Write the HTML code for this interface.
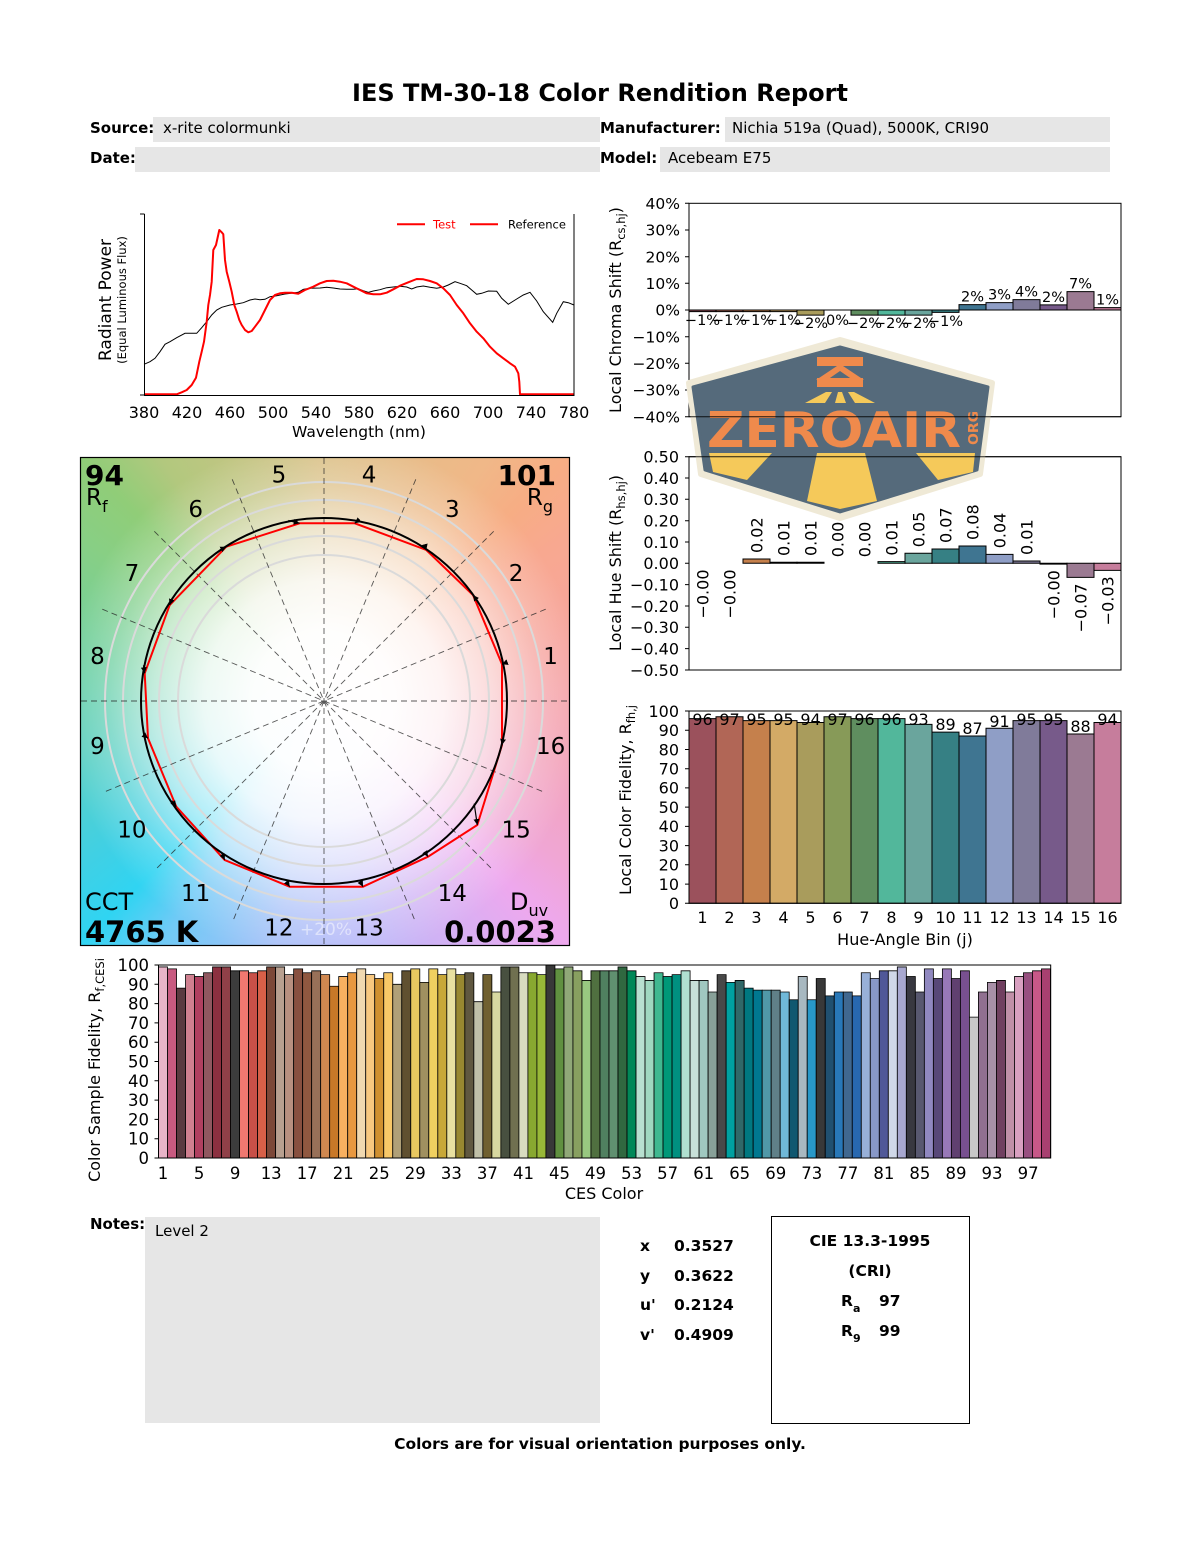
<!DOCTYPE html>
<html><head><meta charset="utf-8"><style>
html,body{margin:0;padding:0;background:#fff;}
#wrap{position:relative;width:1200px;height:1550px;overflow:hidden;background:#fff;}
#cvgbg{position:absolute;left:81px;top:458px;width:488px;height:487px;
background:
radial-gradient(circle 270px at 243px 243px, rgba(255,255,255,1) 0px, rgba(255,255,255,0.98) 70px, rgba(255,255,255,0.88) 120px, rgba(255,255,255,0.6) 170px, rgba(255,255,255,0.25) 215px, rgba(255,255,255,0) 262px),
conic-gradient(from 0deg at 243px 243px, #dcc28a 0deg, #f0b888 34deg, #f7ad84 45deg, #f8a890 56deg, #f6a4a0 79deg, #f3a3b6 101deg, #f0a6d4 124deg, #eea8ee 135deg, #dcaef2 146deg, #bcb8f8 169deg, #a8c0f8 191deg, #70caf6 214deg, #30d4f2 225deg, #40d0e4 236deg, #5fd0c0 259deg, #70d0a0 281deg, #88cf84 304deg, #90cd78 315deg, #b2c87e 326deg, #ccc486 349deg, #dcc28a 360deg);}
svg{position:absolute;left:0;top:0;}
</style></head><body><div id="wrap">
<div id="cvgbg"></div>
<svg width="1200" height="1550" viewBox="0 0 1200 1550" font-family="DejaVu Sans, sans-serif">
<defs>
<marker id="ah" viewBox="0 0 10 10" refX="10" refY="5" markerWidth="6" markerHeight="6" markerUnits="userSpaceOnUse" orient="auto"><path d="M0,0 L10,5 L0,10 z" fill="#000"/></marker>
<clipPath id="cvgclip"><rect x="81" y="458" width="488" height="487"/></clipPath>
</defs>

<!-- Header -->
<text x="600" y="101" font-size="24" font-weight="bold" text-anchor="middle">IES TM-30-18 Color Rendition Report</text>
<rect x="153" y="117" width="447" height="25" fill="#e6e6e6"/>
<rect x="135" y="147" width="465" height="25" fill="#e6e6e6"/>
<rect x="725" y="117" width="385" height="25" fill="#e6e6e6"/>
<rect x="660" y="147" width="450" height="25" fill="#e6e6e6"/>
<text x="90" y="133" font-size="15" font-weight="bold">Source:</text>
<text x="163" y="133" font-size="15">x-rite colormunki</text>
<text x="90" y="163" font-size="15" font-weight="bold">Date:</text>
<text x="600" y="133" font-size="15" font-weight="bold">Manufacturer:</text>
<text x="732" y="133" font-size="15">Nichia 519a (Quad), 5000K, CRI90</text>
<text x="600" y="163" font-size="15" font-weight="bold">Model:</text>
<text x="668" y="163" font-size="15">Acebeam E75</text>

<!-- Spectrum chart -->
<g fill="none">
<polyline stroke="#000" stroke-width="1" points="144,364.3 150,361.7 155,358.3 160,351.7 165,344.3 170,341.7 176.7,337.7 185,333.3 196.7,333.3 201.7,327.7 206.7,321.7 211.7,315 216.7,310 221.7,307.3 230,305 236.7,304 243.3,302.7 250,300 255,299 260,299.7 265,299.3 270,296.7 276.7,295.7 285,294 293.3,293 298.3,292.3 303.3,289.3 310,288.3 320,288 326.7,287.3 333.3,288 340,289 346.7,289.3 353.3,289.3 358.3,288.7 363.3,290.7 368.3,292.3 373.3,291 380,289.7 386.7,287.7 393.3,287 400,286.3 406.7,287 411.7,289 416.7,287 423.3,286 430,287.3 436.7,288.3 443.3,287 448.3,285 455,281.7 460,283.3 466.7,285.7 471.7,290 476.7,294.3 481.7,293.3 488.3,291 496.7,291.3 501.7,298.3 508.3,304.3 516.7,299 523.3,295 530,292.3 536.7,301 543.3,311.7 552.7,322.3 556.7,313.3 563.3,301.7 568.3,302.7 574,305"/>
<polyline stroke="#ff0000" stroke-width="2" stroke-linejoin="round" points="144,394.3 176.7,394.3 181.7,392.3 186.7,390 191.7,385 196,377.7 199.3,361.7 201.7,351.7 204,341.7 206.7,321.7 208.3,305 210,295 211.7,281.7 213.3,250 216,245 219.3,230 221.7,232.3 223.3,234.3 225,260 226.7,271.7 229.3,281.7 231.7,291.7 234.3,305 236.7,311.7 239.3,320 241.7,325 245,330 248.3,332.3 251.7,331 255,326.7 260,320 265,310 270,300 275,295 280,293.3 285,292.7 291.7,292.7 298.3,293.7 305,290 313.3,286.7 320,283.3 326.7,281 333.3,280.7 340,281.7 346.7,283.3 353.3,286.7 360,290 366.7,293.3 373.3,294.3 380,294.3 386.7,292.7 393.3,289.3 400,285.7 408.3,282.3 416.7,279 423.3,279.3 430,281 436.7,283.3 443.3,288.3 450,295 456.7,305 463.3,313.3 470,323.3 476.7,331.7 483.3,338.3 490,346.7 496.7,353.3 503.3,358.3 510,363.3 515,366.7 518.3,373.3 519.3,381.7 520,394.3 574,394.3"/>
<path d="M144.5,214 V395.5 H574 V214" stroke="#000" stroke-width="1"/>
<path d="M140,214 H144.5 M140,395 H144.5" stroke="#000" stroke-width="1"/>
<line x1="397" y1="224.3" x2="425" y2="224.3" stroke="#ff0000" stroke-width="2"/>
<line x1="470" y1="224.3" x2="498" y2="224.3" stroke="#ff0000" stroke-width="2"/>
</g>
<text x="433" y="228.5" font-size="11.5" fill="#ff0000">Test</text>
<text x="508" y="228.5" font-size="11.5" fill="#000">Reference</text>
<g font-size="16" text-anchor="middle">
<text x="144" y="418">380</text><text x="187" y="418">420</text><text x="230" y="418">460</text><text x="273" y="418">500</text><text x="316" y="418">540</text><text x="359" y="418">580</text><text x="402" y="418">620</text><text x="445" y="418">660</text><text x="488" y="418">700</text><text x="531" y="418">740</text><text x="574" y="418">780</text>
</g>
<text x="359" y="437" font-size="15.5" text-anchor="middle">Wavelength (nm)</text>
<text transform="translate(111,300) rotate(-90)" font-size="17" text-anchor="middle">Radiant Power</text>
<text transform="translate(126,300) rotate(-90)" font-size="11.5" text-anchor="middle">(Equal Luminous Flux)</text>

<!-- Chroma shift chart -->
<g transform="translate(689,310) scale(27,-2.6667)" stroke="#000" stroke-width="1">
<rect x="0" y="-0.6" width="1" height="0.6" fill="#9b515c" vector-effect="non-scaling-stroke"/>
<rect x="1" y="-0.6" width="1" height="0.6" fill="#b16656" vector-effect="non-scaling-stroke"/>
<rect x="2" y="-0.6" width="1" height="0.6" fill="#c5804c" vector-effect="non-scaling-stroke"/>
<rect x="3" y="-0.6" width="1" height="0.6" fill="#d3aa66" vector-effect="non-scaling-stroke"/>
<rect x="4" y="-1.9" width="1" height="1.9" fill="#a99c5c" vector-effect="non-scaling-stroke"/>
<rect x="6" y="-1.9" width="1" height="1.9" fill="#5f8e5f" vector-effect="non-scaling-stroke"/>
<rect x="7" y="-1.9" width="1" height="1.9" fill="#52b79b" vector-effect="non-scaling-stroke"/>
<rect x="8" y="-1.9" width="1" height="1.9" fill="#6aa59d" vector-effect="non-scaling-stroke"/>
<rect x="9" y="-0.9" width="1" height="0.9" fill="#368084" vector-effect="non-scaling-stroke"/>
<rect x="10" y="0" width="1" height="2.0" fill="#3f7591" vector-effect="non-scaling-stroke"/>
<rect x="11" y="0" width="1" height="2.75" fill="#8f9ec6" vector-effect="non-scaling-stroke"/>
<rect x="12" y="0" width="1" height="3.9" fill="#807b9a" vector-effect="non-scaling-stroke"/>
<rect x="13" y="0" width="1" height="1.9" fill="#775a8a" vector-effect="non-scaling-stroke"/>
<rect x="14" y="0" width="1" height="6.9" fill="#9b7a92" vector-effect="non-scaling-stroke"/>
<rect x="15" y="0" width="1" height="0.9" fill="#c67d9c" vector-effect="non-scaling-stroke"/>
</g>
<line x1="689" y1="310" x2="1121" y2="310" stroke="#000" stroke-width="1"/>
<rect x="689" y="203.3" width="432" height="213.4" fill="none" stroke="#000" stroke-width="1"/>
<path d="M685,203.3H689M685,230H689M685,256.7H689M685,283.3H689M685,310H689M685,336.7H689M685,363.3H689M685,390H689M685,416.7H689" stroke="#000"/>
<g font-size="15.5" text-anchor="end">
<text x="680" y="209">40%</text><text x="680" y="235.7">30%</text><text x="680" y="262.4">20%</text><text x="680" y="289">10%</text><text x="680" y="315.7">0%</text><text x="680" y="342.4">−10%</text><text x="680" y="369">−20%</text><text x="680" y="395.7">−30%</text><text x="680" y="422.4">−40%</text>
</g>
<g font-size="14.5" text-anchor="middle">
<text x="702.5" y="325">−1%</text><text x="729.5" y="325">−1%</text><text x="756.5" y="325">−1%</text><text x="783.5" y="325">−1%</text><text x="810.5" y="328">−2%</text><text x="837.5" y="325">0%</text><text x="864.5" y="328">−2%</text><text x="891.5" y="328">−2%</text><text x="918.5" y="328">−2%</text><text x="945.5" y="326">−1%</text><text x="972.5" y="301.5">2%</text><text x="999.5" y="299.5">3%</text><text x="1026.5" y="296.5">4%</text><text x="1053.5" y="302">2%</text><text x="1080.5" y="288.5">7%</text><text x="1107.5" y="304.5">1%</text>
</g>
<text transform="translate(621,310) rotate(-90)" font-size="16" text-anchor="middle">Local Chroma Shift (R<tspan font-size="11.5" dy="4">cs,hj</tspan><tspan dy="-4">)</tspan></text>

<!-- Hue shift chart -->
<g transform="translate(689,563.3) scale(27,-213.3)" stroke="#000" stroke-width="1">
<rect x="2" y="0" width="1" height="0.02" fill="#c5804c" vector-effect="non-scaling-stroke"/>
<rect x="3" y="0" width="1" height="0.005" fill="#d3aa66" vector-effect="non-scaling-stroke"/>
<rect x="4" y="0" width="1" height="0.005" fill="#a99c5c" vector-effect="non-scaling-stroke"/>
<rect x="7" y="0" width="1" height="0.008" fill="#52b79b" vector-effect="non-scaling-stroke"/>
<rect x="8" y="0" width="1" height="0.047" fill="#6aa59d" vector-effect="non-scaling-stroke"/>
<rect x="9" y="0" width="1" height="0.067" fill="#368084" vector-effect="non-scaling-stroke"/>
<rect x="10" y="0" width="1" height="0.081" fill="#3f7591" vector-effect="non-scaling-stroke"/>
<rect x="11" y="0" width="1" height="0.042" fill="#8f9ec6" vector-effect="non-scaling-stroke"/>
<rect x="12" y="0" width="1" height="0.011" fill="#807b9a" vector-effect="non-scaling-stroke"/>
<rect x="13" y="-0.004" width="1" height="0.004" fill="#775a8a" vector-effect="non-scaling-stroke"/>
<rect x="14" y="-0.066" width="1" height="0.066" fill="#9b7a92" vector-effect="non-scaling-stroke"/>
<rect x="15" y="-0.033" width="1" height="0.033" fill="#c67d9c" vector-effect="non-scaling-stroke"/>
</g>
<rect x="689" y="456.7" width="432" height="213.3" fill="none" stroke="#000" stroke-width="1"/>
<path d="M685,456.7H689M685,478H689M685,499.3H689M685,520.7H689M685,542H689M685,563.3H689M685,584.6H689M685,606H689M685,627.3H689M685,648.6H689M685,670H689" stroke="#000"/>
<g font-size="16" text-anchor="end">
<text x="679" y="462.5">0.50</text><text x="679" y="483.8">0.40</text><text x="679" y="505.1">0.30</text><text x="679" y="526.5">0.20</text><text x="679" y="547.8">0.10</text><text x="679" y="569.1">0.00</text><text x="679" y="590.4">−0.10</text><text x="679" y="611.8">−0.20</text><text x="679" y="633.1">−0.30</text><text x="679" y="654.4">−0.40</text><text x="679" y="675.8">−0.50</text>
</g>
<g font-size="16">
<text transform="translate(708.3,569.5) rotate(-90)" text-anchor="end">−0.00</text>
<text transform="translate(735.3,569.5) rotate(-90)" text-anchor="end">−0.00</text>
<text transform="translate(762.3,553) rotate(-90)">0.02</text>
<text transform="translate(789.3,556) rotate(-90)">0.01</text>
<text transform="translate(816.3,556) rotate(-90)">0.01</text>
<text transform="translate(843.3,557.3) rotate(-90)">0.00</text>
<text transform="translate(870.3,557.3) rotate(-90)">0.00</text>
<text transform="translate(897.3,555.6) rotate(-90)">0.01</text>
<text transform="translate(924.3,547.3) rotate(-90)">0.05</text>
<text transform="translate(951.3,543) rotate(-90)">0.07</text>
<text transform="translate(978.3,540) rotate(-90)">0.08</text>
<text transform="translate(1005.3,548.3) rotate(-90)">0.04</text>
<text transform="translate(1032.3,555) rotate(-90)">0.01</text>
<text transform="translate(1059.3,570.2) rotate(-90)" text-anchor="end">−0.00</text>
<text transform="translate(1086.3,583.4) rotate(-90)" text-anchor="end">−0.07</text>
<text transform="translate(1113.3,576.3) rotate(-90)" text-anchor="end">−0.03</text>
</g>
<text transform="translate(621,563) rotate(-90)" font-size="16" text-anchor="middle">Local Hue Shift (R<tspan font-size="11.5" dy="4">hs,hj</tspan><tspan dy="-4">)</tspan></text>

<!-- Local color fidelity chart -->
<g transform="translate(689,903.3) scale(27,-1.9233)" stroke="#000" stroke-width="1">
<rect x="0" y="0" width="1" height="96" fill="#9b515c" vector-effect="non-scaling-stroke"/>
<rect x="1" y="0" width="1" height="97" fill="#b16656" vector-effect="non-scaling-stroke"/>
<rect x="2" y="0" width="1" height="95" fill="#c5804c" vector-effect="non-scaling-stroke"/>
<rect x="3" y="0" width="1" height="95" fill="#d3aa66" vector-effect="non-scaling-stroke"/>
<rect x="4" y="0" width="1" height="94" fill="#a99c5c" vector-effect="non-scaling-stroke"/>
<rect x="5" y="0" width="1" height="97" fill="#879a58" vector-effect="non-scaling-stroke"/>
<rect x="6" y="0" width="1" height="96" fill="#5f8e5f" vector-effect="non-scaling-stroke"/>
<rect x="7" y="0" width="1" height="96" fill="#52b79b" vector-effect="non-scaling-stroke"/>
<rect x="8" y="0" width="1" height="93" fill="#6aa59d" vector-effect="non-scaling-stroke"/>
<rect x="9" y="0" width="1" height="89" fill="#368084" vector-effect="non-scaling-stroke"/>
<rect x="10" y="0" width="1" height="87" fill="#3f7591" vector-effect="non-scaling-stroke"/>
<rect x="11" y="0" width="1" height="91" fill="#8f9ec6" vector-effect="non-scaling-stroke"/>
<rect x="12" y="0" width="1" height="95" fill="#807b9a" vector-effect="non-scaling-stroke"/>
<rect x="13" y="0" width="1" height="95" fill="#775a8a" vector-effect="non-scaling-stroke"/>
<rect x="14" y="0" width="1" height="88" fill="#9b7a92" vector-effect="non-scaling-stroke"/>
<rect x="15" y="0" width="1" height="94" fill="#c67d9c" vector-effect="non-scaling-stroke"/>
</g>
<rect x="689" y="711" width="432" height="192.3" fill="none" stroke="#000" stroke-width="1"/>
<path d="M685,711H689M685,730.2H689M685,749.5H689M685,768.7H689M685,787.9H689M685,807.1H689M685,826.4H689M685,845.6H689M685,864.8H689M685,884.1H689M685,903.3H689" stroke="#000"/>
<g font-size="16" text-anchor="end">
<text x="679" y="716.8">100</text><text x="679" y="736">90</text><text x="679" y="755.3">80</text><text x="679" y="774.5">70</text><text x="679" y="793.7">60</text><text x="679" y="812.9">50</text><text x="679" y="832.2">40</text><text x="679" y="851.4">30</text><text x="679" y="870.6">20</text><text x="679" y="889.9">10</text><text x="679" y="909.1">0</text>
</g>
<g font-size="16" text-anchor="middle">
<text x="702.5" y="725">96</text><text x="729.5" y="725">97</text><text x="756.5" y="725">95</text><text x="783.5" y="725">95</text><text x="810.5" y="725">94</text><text x="837.5" y="725">97</text><text x="864.5" y="725">96</text><text x="891.5" y="725">96</text><text x="918.5" y="725">93</text><text x="945.5" y="730">89</text><text x="972.5" y="734">87</text><text x="999.5" y="727">91</text><text x="1026.5" y="725">95</text><text x="1053.5" y="725">95</text><text x="1080.5" y="732">88</text><text x="1107.5" y="725">94</text>
</g>
<g font-size="16" text-anchor="middle">
<text x="702.5" y="923">1</text><text x="729.5" y="923">2</text><text x="756.5" y="923">3</text><text x="783.5" y="923">4</text><text x="810.5" y="923">5</text><text x="837.5" y="923">6</text><text x="864.5" y="923">7</text><text x="891.5" y="923">8</text><text x="918.5" y="923">9</text><text x="945.5" y="923">10</text><text x="972.5" y="923">11</text><text x="999.5" y="923">12</text><text x="1026.5" y="923">13</text><text x="1053.5" y="923">14</text><text x="1080.5" y="923">15</text><text x="1107.5" y="923">16</text>
</g>
<text x="905" y="945" font-size="16" text-anchor="middle">Hue-Angle Bin (j)</text>
<text transform="translate(631,800) rotate(-90)" font-size="16" text-anchor="middle">Local Color Fidelity, R<tspan font-size="11.5" dy="4">fh,j</tspan></text>

<!-- Color vector graphic -->
<g clip-path="url(#cvgclip)">
<g fill="none" stroke="#dadada" stroke-width="2">
<circle cx="324" cy="701" r="219"/><circle cx="324" cy="701" r="201"/><circle cx="324" cy="701" r="165"/><circle cx="324" cy="701" r="146"/>
</g>
<g stroke="#222" stroke-width="0.9" stroke-dasharray="6,4" opacity="0.75">
<line x1="81" y1="701" x2="569" y2="701"/>
<line x1="324" y1="458" x2="324" y2="945"/>
<line x1="545.7" y1="609.2" x2="102.3" y2="792.8"/>
<line x1="493.7" y1="531.3" x2="154.3" y2="870.7"/>
<line x1="415.8" y1="479.3" x2="232.2" y2="922.7"/>
<line x1="232.2" y1="479.3" x2="415.8" y2="922.7"/>
<line x1="154.3" y1="531.3" x2="493.7" y2="870.7"/>
<line x1="102.3" y1="609.2" x2="545.7" y2="792.8"/>
</g>
<text x="326" y="935" font-size="17" text-anchor="middle" fill="#fff" opacity="0.5">+20%</text>
<polygon fill="none" stroke="#ff0000" stroke-width="2" points="502,664.3 473,595 426.3,550 354.7,523.3 299.7,523.3 226.3,546.7 169.7,605 144.7,673.3 148,738.3 176.3,806.7 224.7,860 289.7,886.7 363,886.7 428,856.7 477.3,825 502,745"/>
<circle cx="324" cy="701" r="183" fill="none" stroke="#000" stroke-width="2"/>
<g stroke="#000" stroke-width="1.2" marker-end="url(#ah)">
<line x1="476.2" y1="599.3" x2="473" y2="595"/>
<line x1="425.7" y1="547.8" x2="426.3" y2="550"/>
<line x1="359.7" y1="519.5" x2="354.7" y2="523.3"/>
<line x1="288.3" y1="520.5" x2="299.7" y2="523.3"/>
<line x1="220.3" y1="549.8" x2="226.3" y2="546.7"/>
<line x1="171.8" y1="599.3" x2="169.7" y2="605"/>
<line x1="143.5" y1="665.3" x2="144.7" y2="673.3"/>
<line x1="143.5" y1="734.7" x2="148" y2="738.3"/>
<line x1="171.8" y1="800.7" x2="176.3" y2="806.7"/>
<line x1="221.3" y1="852.2" x2="224.7" y2="860"/>
<line x1="286.3" y1="881.5" x2="289.7" y2="886.7"/>
<line x1="359.7" y1="880.5" x2="363" y2="886.7"/>
<line x1="425.7" y1="853.2" x2="428" y2="856.7"/>
<line x1="474.2" y1="803.7" x2="477.3" y2="825"/>
<line x1="503.5" y1="736.7" x2="502" y2="745"/>
<line x1="504.5" y1="663.3" x2="502" y2="664.3"/>
</g>
</g>
<rect x="80.5" y="457.5" width="489" height="488" fill="none" stroke="#000" stroke-width="1.2"/>
<g font-size="23" text-anchor="middle">
<text x="550.6" y="664">1</text><text x="516.1" y="581">2</text><text x="452.3" y="517">3</text><text x="369.1" y="482.5">4</text><text x="278.9" y="482.5">5</text><text x="195.7" y="517">6</text><text x="131.9" y="581">7</text><text x="97.4" y="664">8</text><text x="97.4" y="754">9</text><text x="131.9" y="837.5">10</text><text x="195.7" y="901">11</text><text x="278.9" y="935.5">12</text><text x="369.1" y="935.5">13</text><text x="452.3" y="901">14</text><text x="516.1" y="837.5">15</text><text x="550.6" y="754">16</text>
</g>
<text x="85" y="485" font-size="28" font-weight="bold">94</text>
<text x="86" y="505" font-size="23">R<tspan font-size="16" dy="7">f</tspan></text>
<text x="556" y="485" font-size="28" font-weight="bold" text-anchor="end">101</text>
<text x="553" y="505" font-size="23" text-anchor="end">R<tspan font-size="16" dy="7">g</tspan></text>
<text x="85" y="910" font-size="24">CCT</text>
<text x="85" y="942" font-size="29" font-weight="bold">4765 K</text>
<text x="510" y="910" font-size="24">D<tspan font-size="16" dy="6">uv</tspan></text>
<text x="556" y="942" font-size="29" font-weight="bold" text-anchor="end">0.0023</text>

<!-- CES chart -->
<g transform="translate(158.5,1158) scale(9.01,-1.93)" stroke="#000" stroke-width="0.8">
<rect vector-effect="non-scaling-stroke" x="0" y="0" width="1" height="99" fill="#e8b4c8"/>
<rect vector-effect="non-scaling-stroke" x="1" y="0" width="1" height="98" fill="#c85a80"/>
<rect vector-effect="non-scaling-stroke" x="2" y="0" width="1" height="88" fill="#5a3a40"/>
<rect vector-effect="non-scaling-stroke" x="3" y="0" width="1" height="95" fill="#d08090"/>
<rect vector-effect="non-scaling-stroke" x="4" y="0" width="1" height="94" fill="#b04060"/>
<rect vector-effect="non-scaling-stroke" x="5" y="0" width="1" height="96" fill="#905860"/>
<rect vector-effect="non-scaling-stroke" x="6" y="0" width="1" height="99" fill="#8c3040"/>
<rect vector-effect="non-scaling-stroke" x="7" y="0" width="1" height="99" fill="#904048"/>
<rect vector-effect="non-scaling-stroke" x="8" y="0" width="1" height="97" fill="#3c3c3c"/>
<rect vector-effect="non-scaling-stroke" x="9" y="0" width="1" height="97" fill="#f07870"/>
<rect vector-effect="non-scaling-stroke" x="10" y="0" width="1" height="96" fill="#c85048"/>
<rect vector-effect="non-scaling-stroke" x="11" y="0" width="1" height="97" fill="#d86048"/>
<rect vector-effect="non-scaling-stroke" x="12" y="0" width="1" height="99" fill="#7c4838"/>
<rect vector-effect="non-scaling-stroke" x="13" y="0" width="1" height="99" fill="#b8a090"/>
<rect vector-effect="non-scaling-stroke" x="14" y="0" width="1" height="95" fill="#b89080"/>
<rect vector-effect="non-scaling-stroke" x="15" y="0" width="1" height="98" fill="#885040"/>
<rect vector-effect="non-scaling-stroke" x="16" y="0" width="1" height="96" fill="#905840"/>
<rect vector-effect="non-scaling-stroke" x="17" y="0" width="1" height="97" fill="#987058"/>
<rect vector-effect="non-scaling-stroke" x="18" y="0" width="1" height="95" fill="#d08850"/>
<rect vector-effect="non-scaling-stroke" x="19" y="0" width="1" height="89" fill="#c87828"/>
<rect vector-effect="non-scaling-stroke" x="20" y="0" width="1" height="94" fill="#f8b060"/>
<rect vector-effect="non-scaling-stroke" x="21" y="0" width="1" height="96" fill="#e89840"/>
<rect vector-effect="non-scaling-stroke" x="22" y="0" width="1" height="98" fill="#f0d8b0"/>
<rect vector-effect="non-scaling-stroke" x="23" y="0" width="1" height="95" fill="#f8c880"/>
<rect vector-effect="non-scaling-stroke" x="24" y="0" width="1" height="93" fill="#d09030"/>
<rect vector-effect="non-scaling-stroke" x="25" y="0" width="1" height="96" fill="#f8c868"/>
<rect vector-effect="non-scaling-stroke" x="26" y="0" width="1" height="90" fill="#b0a078"/>
<rect vector-effect="non-scaling-stroke" x="27" y="0" width="1" height="97" fill="#605030"/>
<rect vector-effect="non-scaling-stroke" x="28" y="0" width="1" height="98" fill="#e8c860"/>
<rect vector-effect="non-scaling-stroke" x="29" y="0" width="1" height="91" fill="#a09060"/>
<rect vector-effect="non-scaling-stroke" x="30" y="0" width="1" height="98" fill="#f0d060"/>
<rect vector-effect="non-scaling-stroke" x="31" y="0" width="1" height="95" fill="#c8a838"/>
<rect vector-effect="non-scaling-stroke" x="32" y="0" width="1" height="98" fill="#e8e0a0"/>
<rect vector-effect="non-scaling-stroke" x="33" y="0" width="1" height="95" fill="#988830"/>
<rect vector-effect="non-scaling-stroke" x="34" y="0" width="1" height="96" fill="#605840"/>
<rect vector-effect="non-scaling-stroke" x="35" y="0" width="1" height="81" fill="#c0c0a8"/>
<rect vector-effect="non-scaling-stroke" x="36" y="0" width="1" height="95" fill="#706030"/>
<rect vector-effect="non-scaling-stroke" x="37" y="0" width="1" height="86" fill="#d8d8a0"/>
<rect vector-effect="non-scaling-stroke" x="38" y="0" width="1" height="99" fill="#485040"/>
<rect vector-effect="non-scaling-stroke" x="39" y="0" width="1" height="99" fill="#707050"/>
<rect vector-effect="non-scaling-stroke" x="40" y="0" width="1" height="96" fill="#d8dcc0"/>
<rect vector-effect="non-scaling-stroke" x="41" y="0" width="1" height="96" fill="#88a830"/>
<rect vector-effect="non-scaling-stroke" x="42" y="0" width="1" height="95" fill="#98b838"/>
<rect vector-effect="non-scaling-stroke" x="43" y="0" width="1" height="100" fill="#383838"/>
<rect vector-effect="non-scaling-stroke" x="44" y="0" width="1" height="98" fill="#609040"/>
<rect vector-effect="non-scaling-stroke" x="45" y="0" width="1" height="99" fill="#90a878"/>
<rect vector-effect="non-scaling-stroke" x="46" y="0" width="1" height="97" fill="#88a060"/>
<rect vector-effect="non-scaling-stroke" x="47" y="0" width="1" height="92" fill="#98c880"/>
<rect vector-effect="non-scaling-stroke" x="48" y="0" width="1" height="97" fill="#507040"/>
<rect vector-effect="non-scaling-stroke" x="49" y="0" width="1" height="97" fill="#508060"/>
<rect vector-effect="non-scaling-stroke" x="50" y="0" width="1" height="97" fill="#609070"/>
<rect vector-effect="non-scaling-stroke" x="51" y="0" width="1" height="99" fill="#306840"/>
<rect vector-effect="non-scaling-stroke" x="52" y="0" width="1" height="97" fill="#008858"/>
<rect vector-effect="non-scaling-stroke" x="53" y="0" width="1" height="94" fill="#b8e0d0"/>
<rect vector-effect="non-scaling-stroke" x="54" y="0" width="1" height="92" fill="#a0d8c0"/>
<rect vector-effect="non-scaling-stroke" x="55" y="0" width="1" height="96" fill="#40b890"/>
<rect vector-effect="non-scaling-stroke" x="56" y="0" width="1" height="94" fill="#009878"/>
<rect vector-effect="non-scaling-stroke" x="57" y="0" width="1" height="95" fill="#009080"/>
<rect vector-effect="non-scaling-stroke" x="58" y="0" width="1" height="97" fill="#b0e0d0"/>
<rect vector-effect="non-scaling-stroke" x="59" y="0" width="1" height="92" fill="#c8e0d8"/>
<rect vector-effect="non-scaling-stroke" x="60" y="0" width="1" height="92" fill="#a0c8c0"/>
<rect vector-effect="non-scaling-stroke" x="61" y="0" width="1" height="86" fill="#88a098"/>
<rect vector-effect="non-scaling-stroke" x="62" y="0" width="1" height="95" fill="#484848"/>
<rect vector-effect="non-scaling-stroke" x="63" y="0" width="1" height="91" fill="#00a0a0"/>
<rect vector-effect="non-scaling-stroke" x="64" y="0" width="1" height="92" fill="#306868"/>
<rect vector-effect="non-scaling-stroke" x="65" y="0" width="1" height="88" fill="#007880"/>
<rect vector-effect="non-scaling-stroke" x="66" y="0" width="1" height="87" fill="#007890"/>
<rect vector-effect="non-scaling-stroke" x="67" y="0" width="1" height="87" fill="#5098a8"/>
<rect vector-effect="non-scaling-stroke" x="68" y="0" width="1" height="87" fill="#608088"/>
<rect vector-effect="non-scaling-stroke" x="69" y="0" width="1" height="86" fill="#70b8d8"/>
<rect vector-effect="non-scaling-stroke" x="70" y="0" width="1" height="82" fill="#105870"/>
<rect vector-effect="non-scaling-stroke" x="71" y="0" width="1" height="94" fill="#a8b8c0"/>
<rect vector-effect="non-scaling-stroke" x="72" y="0" width="1" height="82" fill="#2898c8"/>
<rect vector-effect="non-scaling-stroke" x="73" y="0" width="1" height="93" fill="#383838"/>
<rect vector-effect="non-scaling-stroke" x="74" y="0" width="1" height="84" fill="#205070"/>
<rect vector-effect="non-scaling-stroke" x="75" y="0" width="1" height="86" fill="#2878b8"/>
<rect vector-effect="non-scaling-stroke" x="76" y="0" width="1" height="86" fill="#406890"/>
<rect vector-effect="non-scaling-stroke" x="77" y="0" width="1" height="84" fill="#2868b0"/>
<rect vector-effect="non-scaling-stroke" x="78" y="0" width="1" height="96" fill="#98b0d8"/>
<rect vector-effect="non-scaling-stroke" x="79" y="0" width="1" height="93" fill="#8898c8"/>
<rect vector-effect="non-scaling-stroke" x="80" y="0" width="1" height="97" fill="#505898"/>
<rect vector-effect="non-scaling-stroke" x="81" y="0" width="1" height="97" fill="#d0d8e8"/>
<rect vector-effect="non-scaling-stroke" x="82" y="0" width="1" height="99" fill="#a8a8d0"/>
<rect vector-effect="non-scaling-stroke" x="83" y="0" width="1" height="94" fill="#383840"/>
<rect vector-effect="non-scaling-stroke" x="84" y="0" width="1" height="86" fill="#585870"/>
<rect vector-effect="non-scaling-stroke" x="85" y="0" width="1" height="98" fill="#9088c0"/>
<rect vector-effect="non-scaling-stroke" x="86" y="0" width="1" height="93" fill="#584878"/>
<rect vector-effect="non-scaling-stroke" x="87" y="0" width="1" height="98" fill="#9878b8"/>
<rect vector-effect="non-scaling-stroke" x="88" y="0" width="1" height="93" fill="#604070"/>
<rect vector-effect="non-scaling-stroke" x="89" y="0" width="1" height="97" fill="#785090"/>
<rect vector-effect="non-scaling-stroke" x="90" y="0" width="1" height="73" fill="#c8c8c8"/>
<rect vector-effect="non-scaling-stroke" x="91" y="0" width="1" height="86" fill="#907090"/>
<rect vector-effect="non-scaling-stroke" x="92" y="0" width="1" height="91" fill="#a890a8"/>
<rect vector-effect="non-scaling-stroke" x="93" y="0" width="1" height="92" fill="#704060"/>
<rect vector-effect="non-scaling-stroke" x="94" y="0" width="1" height="86" fill="#c090a8"/>
<rect vector-effect="non-scaling-stroke" x="95" y="0" width="1" height="94" fill="#d8a0c0"/>
<rect vector-effect="non-scaling-stroke" x="96" y="0" width="1" height="96" fill="#985080"/>
<rect vector-effect="non-scaling-stroke" x="97" y="0" width="1" height="97" fill="#c85888"/>
<rect vector-effect="non-scaling-stroke" x="98" y="0" width="1" height="98" fill="#a84070"/>
</g>
<rect x="158.5" y="965" width="892.2" height="193" fill="none" stroke="#000" stroke-width="1"/>
<path d="M154.5,965H158.5M154.5,984.3H158.5M154.5,1003.6H158.5M154.5,1022.9H158.5M154.5,1042.2H158.5M154.5,1061.5H158.5M154.5,1080.8H158.5M154.5,1100.1H158.5M154.5,1119.4H158.5M154.5,1138.7H158.5M154.5,1158H158.5" stroke="#000"/>
<g font-size="16.5" text-anchor="end">
<text x="149" y="971">100</text><text x="149" y="990.3">90</text><text x="149" y="1009.6">80</text><text x="149" y="1028.9">70</text><text x="149" y="1048.2">60</text><text x="149" y="1067.5">50</text><text x="149" y="1086.8">40</text><text x="149" y="1106.1">30</text><text x="149" y="1125.4">20</text><text x="149" y="1144.7">10</text><text x="149" y="1164">0</text>
</g>
<g font-size="16.5" text-anchor="middle">
<text x="163" y="1179">1</text><text x="199.1" y="1179">5</text><text x="235.1" y="1179">9</text><text x="271.2" y="1179">13</text><text x="307.2" y="1179">17</text><text x="343.2" y="1179">21</text><text x="379.3" y="1179">25</text><text x="415.3" y="1179">29</text><text x="451.4" y="1179">33</text><text x="487.4" y="1179">37</text><text x="523.5" y="1179">41</text><text x="559.5" y="1179">45</text><text x="595.5" y="1179">49</text><text x="631.6" y="1179">53</text><text x="667.6" y="1179">57</text><text x="703.7" y="1179">61</text><text x="739.7" y="1179">65</text><text x="775.8" y="1179">69</text><text x="811.8" y="1179">73</text><text x="847.9" y="1179">77</text><text x="883.9" y="1179">81</text><text x="919.9" y="1179">85</text><text x="956" y="1179">89</text><text x="992" y="1179">93</text><text x="1028.1" y="1179">97</text>
</g>
<text x="604" y="1199" font-size="16" text-anchor="middle">CES Color</text>
<text transform="translate(100,1070) rotate(-90)" font-size="16" text-anchor="middle">Color Sample Fidelity, R<tspan font-size="11.5" dy="4">f,CESi</tspan></text>

<!-- Bottom section -->
<text x="90" y="1229" font-size="15" font-weight="bold">Notes:</text>
<rect x="145" y="1217" width="455" height="206" fill="#e6e6e6"/>
<text x="155" y="1236" font-size="15">Level 2</text>
<g font-size="15.5" font-weight="bold">
<text x="640" y="1251">x</text><text x="674" y="1251">0.3527</text>
<text x="640" y="1281">y</text><text x="674" y="1281">0.3622</text>
<text x="640" y="1310">u'</text><text x="674" y="1310">0.2124</text>
<text x="640" y="1340">v'</text><text x="674" y="1340">0.4909</text>
</g>
<rect x="771.5" y="1216.5" width="198" height="207" fill="none" stroke="#000" stroke-width="1"/>
<g font-size="15.5" font-weight="bold">
<text x="870" y="1246" text-anchor="middle">CIE 13.3-1995</text>
<text x="870" y="1276" text-anchor="middle">(CRI)</text>
<text x="841" y="1306">R<tspan font-size="11" dy="6">a</tspan></text><text x="879" y="1306">97</text>
<text x="841" y="1336">R<tspan font-size="11" dy="6">9</tspan></text><text x="879" y="1336">99</text>
</g>
<text x="600" y="1449" font-size="15.5" font-weight="bold" text-anchor="middle">Colors are for visual orientation purposes only.</text>

<!-- ZEROAIR watermark -->
<g>
<polygon points="840,340 992,383 980,474 840,518 701,474 689,383" fill="#efe9d6" stroke="#efe9d6" stroke-width="6" stroke-linejoin="round"/>
<polygon points="840,347 988,387 977,470 840,512 705,470 693,387" fill="#556a7b" stroke="#556a7b" stroke-width="3" stroke-linejoin="round"/>
<rect x="817" y="357" width="46" height="9" fill="#ef8a4c"/>
<rect x="817" y="378" width="46" height="9" fill="#ef8a4c"/>
<path d="M840,364 L864,380 L816,380 Z M840,371 L827,380 L853,380 Z" fill="#ef8a4c" fill-rule="evenodd"/>
<polygon points="838,392 842,392 846,403 835,403" fill="#f5c95a"/>
<polygon points="826,392 832,392 825,403 805,403" fill="#f5c95a"/>
<polygon points="848,392 854,392 875,403 855,403" fill="#f5c95a"/>
<text x="707" y="447" font-size="49" font-weight="bold" fill="#ef8a4c" textLength="254" lengthAdjust="spacingAndGlyphs" font-family="DejaVu Sans, sans-serif">ZEROAIR</text>
<text transform="translate(978,445) rotate(-90)" font-size="13" font-weight="bold" fill="#ef8a4c" textLength="34" lengthAdjust="spacingAndGlyphs">ORG</text>
<polygon points="709,453 772,453 747,480 713,472" fill="#f5c95a"/>
<polygon points="817,453 865,453 877,501 840,509 807,501" fill="#f5c95a"/>
<polygon points="916,453 975,453 973,472 938,480" fill="#f5c95a"/>
</g>
<line x1="689" y1="416.7" x2="1121" y2="416.7" stroke="#000" stroke-width="1" opacity="0.85"/>
<line x1="689" y1="456.7" x2="1121" y2="456.7" stroke="#000" stroke-width="1" opacity="0.85"/>
</svg>
</div></body></html>
